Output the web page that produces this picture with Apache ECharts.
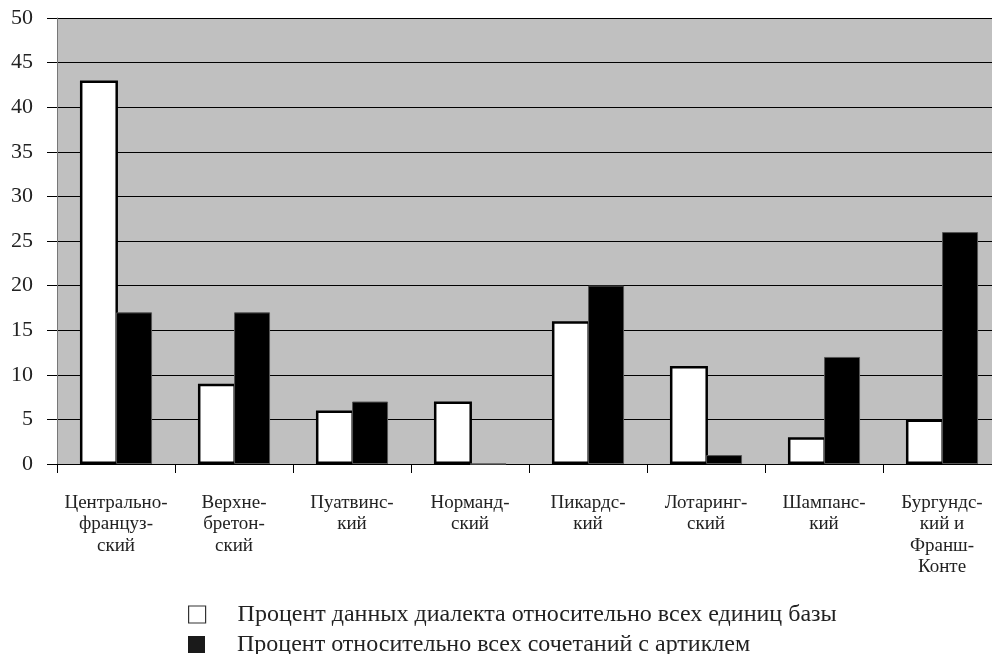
<!DOCTYPE html>
<html><head><meta charset="utf-8">
<script src="https://cdn.jsdelivr.net/npm/echarts@6/dist/echarts.min.js"></script>
<style>html,body{margin:0;padding:0;background:#fff;overflow:hidden}#c{width:1001px;height:654px}</style>
</head><body><div id="c"></div>
<script>
const categories = ['Центрально-\nфранцуз-\nский','Верхне-\nбретон-\nский','Пуатвинс-\nкий','Норманд-\nский','Пикардс-\nкий','Лотаринг-\nский','Шампанс-\nкий','Бургундс-\nкий и\nФранш-\nКонте'];
const seriesNames = ['Процент данных диалекта относительно всех единиц базы','Процент относительно всех сочетаний с артиклем'];
const shareOfBase = [43, 9, 6, 7, 16, 11, 3, 5];
const shareOfArticle = [17, 17, 7, 0, 20, 1, 12, 26];
const yTicks = [0, 5, 10, 15, 20, 25, 30, 35, 40, 45, 50];

const font = 'Liberation Serif, Times New Roman, serif';
const legendText = {fontFamily: font, fontSize: 24, color: '#222', lineHeight: 24, padding: [3, 0, 0, 27]};
const chart = echarts.init(document.getElementById('c'));
chart.setOption({
  animation: false,
  backgroundColor: '#fff',
  grid: {left: 57, top: 18, right: 0, bottom: 190, containLabel: false,
         show: true, backgroundColor: '#c0c0c0', borderWidth: 0},
  legend: [
    {left: 183, top: 596, itemWidth: 17, itemHeight: 17, textStyle: legendText,
     data: [{name: seriesNames[0], icon: 'rect', itemStyle: {color: '#fff', borderColor: '#333', borderWidth: 1.2}}]},
    {left: 183, top: 626, itemWidth: 17, itemHeight: 17, textStyle: legendText,
     data: [{name: seriesNames[1], icon: 'rect', itemStyle: {color: '#1a1a1a', borderWidth: 0}}]}
  ],
  xAxis: {
    type: 'category', data: categories,
    axisLine: {show: true, lineStyle: {color: '#000', width: 1}},
    axisTick: {show: true, length: 9, lineStyle: {color: '#000'}},
    axisLabel: {fontFamily: font, fontSize: 19, color: '#222', lineHeight: 21.5, margin: 28, interval: 0}
  },
  yAxis: {
    type: 'value', min: 0, max: 50, interval: 5,
    axisLine: {show: true, lineStyle: {color: '#777', width: 1}},
    axisTick: {show: true, length: 10, lineStyle: {color: '#000'}},
    splitLine: {show: true, lineStyle: {color: '#000', width: 1}},
    axisLabel: {fontFamily: font, fontSize: 22, color: '#222', margin: 24,
      formatter: v => yTicks.includes(v) ? String(v) : ''}
  },
  series: [
    {name: seriesNames[0], type: 'bar', data: shareOfBase, barWidth: 38, barGap: '-5%',
     itemStyle: {color: '#fff', borderColor: '#000', borderWidth: 2.5}},
    {name: seriesNames[1], type: 'bar', data: shareOfArticle, barWidth: 36,
     itemStyle: {color: '#000', borderColor: '#555', borderWidth: 1}}
  ]
});
</script></body></html>
